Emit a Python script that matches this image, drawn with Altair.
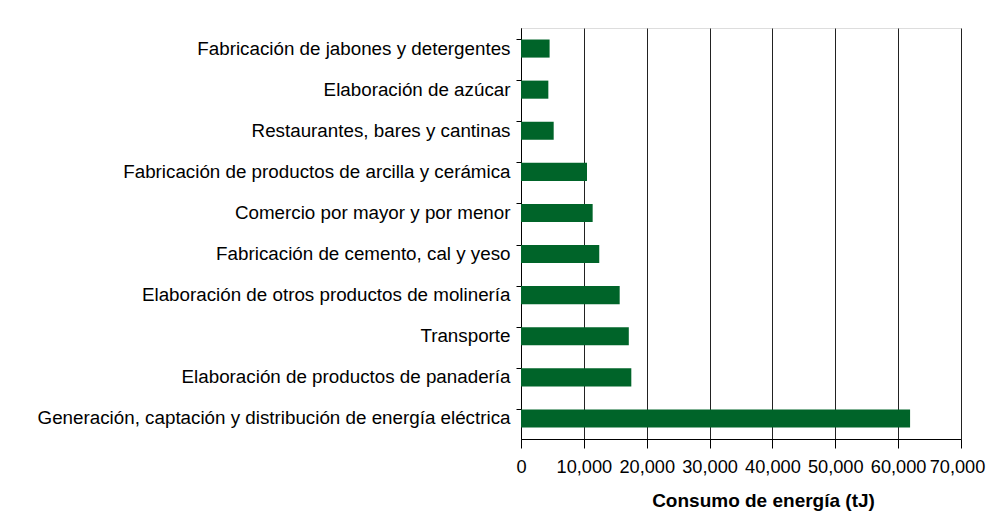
import altair as alt
import pandas as pd

categories = [
    "Fabricación de jabones y detergentes",
    "Elaboración de azúcar",
    "Restaurantes, bares y cantinas",
    "Fabricación de productos de arcilla y cerámica",
    "Comercio por mayor y por menor",
    "Fabricación de cemento, cal y yeso",
    "Elaboración de otros productos de molinería",
    "Transporte",
    "Elaboración de productos de panadería",
    "Generación, captación y distribución de energía eléctrica",
]
values = [4550, 4350, 5200, 10500, 11400, 12450, 15700, 17150, 17550, 61900]
x_ticks = [0, 10000, 20000, 30000, 40000, 50000, 60000, 70000]

df = pd.DataFrame({"cat": categories, "val": values})

font = "Liberation Sans"

chart = (
    alt.Chart(df)
    .mark_bar(color="#006429")
    .encode(
        x=alt.X(
            "val:Q",
            scale=alt.Scale(domain=[0, 70000], nice=False),
            axis=alt.Axis(
                values=x_ticks,
                format=",d",
                title="Consumo de energía (tJ)",
                titleFont=font,
                titleFontSize=19,
                titleFontWeight="bold",
                titleColor="#000",
                titlePadding=16,
                titleX=242,
                titleAlign="center",
                labelFont=font,
                labelFontSize=18.2,
                labelColor="#000",
                labelPadding=10,
                labelOffset={"condition": {"test": "datum.value >= 70000", "value": -4}, "value": 0},
                tickSize=9,
                tickColor="#000",
                domainColor="#000",
                grid=True,
                gridColor="#222",
                gridWidth=1,
                labelFlush=False,
                labelOverlap=False,
            ),
        ),
        y=alt.Y(
            "cat:N",
            sort=categories,
            scale=alt.Scale(paddingInner=0.56, paddingOuter=0.28),
            axis=alt.Axis(
                title=None,
                labelFont=font,
                labelFontSize=18.8,
                labelColor="#000",
                labelPadding=6,
                tickSize=5,
                tickColor="#000",
                domainColor="#000",
                bandPosition=0,
                grid=False,
                labelLimit=0,
            ),
        ),
    )
    .properties(
        width=440,
        height=411,
        autosize=alt.AutoSizeParams(type="none"),
        padding={"left": 513, "top": 20, "right": 26, "bottom": 80},
    )
    .configure_view(stroke="#555", strokeWidth=1.5)
    .configure(background="white")
)

chart.save("out.html", embed_options={"renderer": "svg", "actions": False})
